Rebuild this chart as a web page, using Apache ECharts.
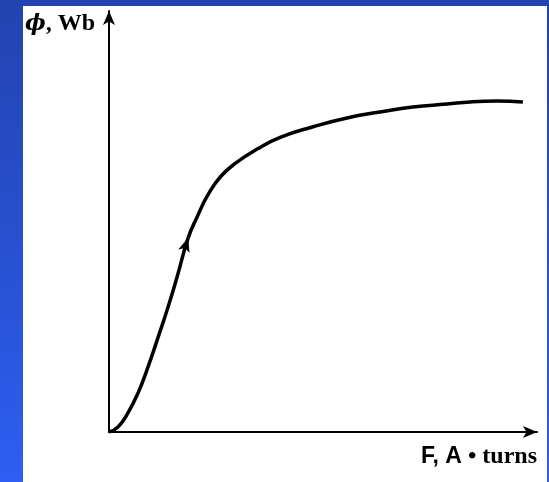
<!DOCTYPE html>
<html>
<head>
<meta charset="utf-8">
<script src="https://cdn.jsdelivr.net/npm/echarts@6/dist/echarts.min.js"></script>
<style>
html,body{margin:0;padding:0;width:549px;height:482px;overflow:hidden;}
body{background:linear-gradient(to bottom,#2244b0 0%,#2850d0 50%,#2e5ef2 100%);position:relative;}
#chart{position:absolute;left:23px;top:6px;width:524px;height:476px;background:#ffffff;}
</style>
</head>
<body>
<div id="chart"></div>
<script>
// Magnetization curve: F (A·turns) vs flux phi (Wb), relative units
var fValues   = [0, 2.1, 4.4, 6.8, 9.1, 11.5, 13.8, 15.9, 18.5, 20.6, 23.1, 26.2, 29.9, 34.6, 40.0, 47.7, 55.6, 63.3, 71.0, 79.0, 84.4, 90.7, 96.7];
var phiValues = [0, 1.2, 4.5, 9.3, 15.4, 22.6, 29.7, 36.8, 46.1, 51.1, 56.3, 60.8, 64.1, 67.2, 70.0, 72.5, 74.6, 76.0, 77.2, 77.9, 78.4, 78.6, 78.4];
var arrowPoint = [18.5, 46.1];
var yLabelSym = 'ϕ';
var yLabelRest = ', Wb';
var xLabelA = 'F, A';
var xLabelB = ' • turns';

var chart = echarts.init(document.getElementById('chart'));
var pts = fValues.map(function (f, i) { return [f, phiValues[i]]; });
chart.setOption({
  animation: false,
  backgroundColor: '#ffffff',
  grid: {left: 86, right: 10, top: 5, bottom: 50},
  xAxis: {
    type: 'value', min: 0, max: 100,
    axisLine: {show: true, symbol: ['none', 'arrow'], symbolSize: [9, 14], lineStyle: {color: '#000', width: 2}},
    axisTick: {show: false}, axisLabel: {show: false}, splitLine: {show: false}
  },
  yAxis: {
    type: 'value', min: 0, max: 100,
    axisLine: {show: true, symbol: ['none', 'arrow'], symbolSize: [9, 14], lineStyle: {color: '#000', width: 2}},
    axisTick: {show: false}, axisLabel: {show: false}, splitLine: {show: false}
  },
  series: [{
    type: 'line',
    data: pts,
    smooth: 0.5,
    showSymbol: false,
    lineStyle: {color: '#000', width: 3.5},
    markPoint: {
      symbol: 'arrow',
      symbolSize: [9, 14],
      symbolRotate: -18,
      itemStyle: {color: '#000'},
      label: {show: false},
      data: [{coord: arrowPoint}]
    }
  }],
  graphic: [
    {type: 'text', left: 2, top: 6, style: {
      text: '{p|' + yLabelSym + '}{r|' + yLabelRest + '}',
      rich: {
        p: {font: 'italic bold 22px "DejaVu Serif", serif', fill: '#000'},
        r: {font: 'bold 24px "Liberation Serif", serif', fill: '#000'}
      }
    }},
    {type: 'text', right: 10, top: 439, style: {
      text: '{a|' + xLabelA + '}{b|' + xLabelB + '}',
      rich: {
        a: {font: 'bold 23px "Liberation Sans", sans-serif', fill: '#000'},
        b: {font: 'bold 24px "Liberation Serif", serif', fill: '#000'}
      }
    }}
  ]
});
</script>
</body>
</html>
